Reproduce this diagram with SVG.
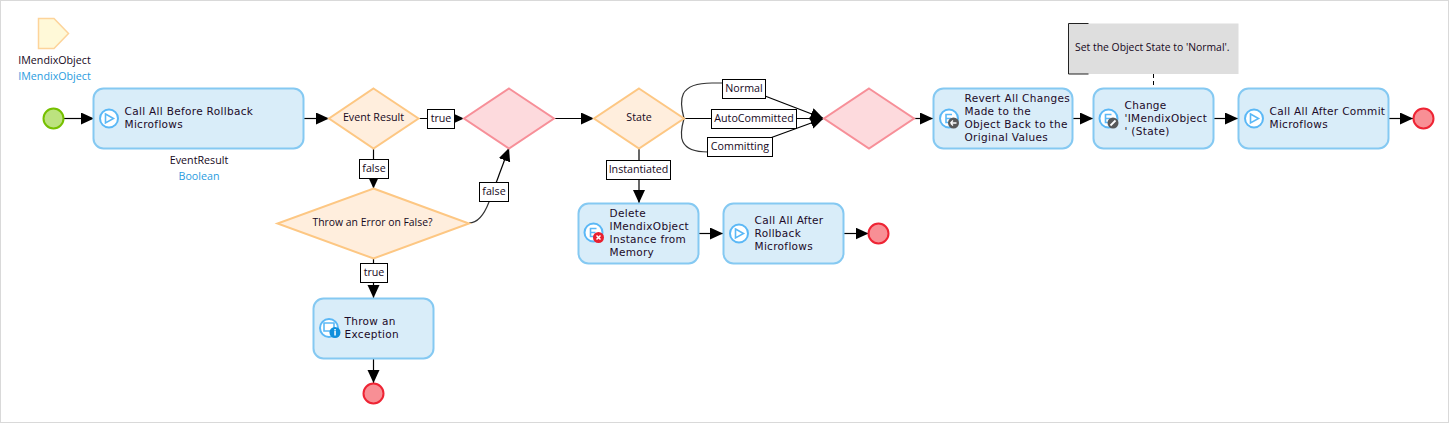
<svg xmlns="http://www.w3.org/2000/svg" width="1449" height="423" viewBox="0 0 1449 423">
<style>
text{font-family:"Open Sans","Noto Sans","Liberation Sans",sans-serif;font-size:10.7px;fill:#16081c}
.n text{font-family:"DejaVu Sans","Liberation Sans",sans-serif;font-size:10.5px;letter-spacing:.32px;fill:#1c0a28}
.c{text-anchor:middle}
.b{fill:#2a9ce0}
.act{fill:#d9edf9;stroke:#85c9f2;stroke-width:2}
.dec{fill:#ffeedd;stroke:#fdc783;stroke-width:2}
.mrg{fill:#fddadd;stroke:#f78f98;stroke-width:2}
.end{fill:#f88f95;stroke:#ee2434;stroke-width:2}
.lbl rect{fill:#fff;stroke:#000;stroke-width:1}
.ln{fill:none;stroke:#000;stroke-width:1.2;marker-end:url(#a)}
.cv{fill:none;stroke:#333;stroke-width:1.2}
.ic{fill:#fff;stroke:#5bb8f6;stroke-width:2}
.gl{fill:none;stroke:#5bb8f6;stroke-width:1.6}
</style>
<defs>
<marker id="a" markerUnits="userSpaceOnUse" markerWidth="14" markerHeight="13" refX="13" refY="6" orient="auto"><path d="M0 0L13 6L0 12Z" fill="#000"/></marker>
<g id="play"><circle class="ic" r="9"/><path class="gl" d="M-3.5-4.5L4.5 0L-3.5 4.5Z"/></g>
<g id="ent"><circle class="ic" r="9"/><path class="gl" d="M3-4H-3V4H3M-3 0H2"/></g>
</defs>
<rect x=".5" y=".5" width="1448" height="422" fill="#fff" stroke="#d9d9d9"/>
<g id="connectors">
<path class="ln" d="M63 118.500H94"/>
<path class="ln" d="M303 118.500H329"/>
<path class="ln" d="M418 118.500H464"/>
<path class="ln" d="M373.500 148V188.500"/>
<path class="ln" d="M373.500 258.500V298"/>
<path class="ln" d="M373.500 358.500V383"/>
<path class="ln" d="M554 118.500H594"/>
<path class="ln" d="M639 148V203"/>
<path class="ln" d="M699 233.500H723"/>
<path class="ln" d="M844 233.500H868.500"/>
<path class="ln" d="M914 118.500H933"/>
<path class="ln" d="M1072 118.500H1093"/>
<path class="ln" d="M1213 118.500H1238"/>
<path class="ln" d="M1389 118.500H1413"/>
<path class="cv" d="M469 223C477 223 484 215 489 202"/>
<path class="ln" d="M489 202L509 148"/>
<path class="cv" d="M684 118.500C679 100 678 83 712 83H722"/>
<path class="cv" d="M684 118.500C679 136 678 152 708 152"/>
<path class="ln" d="M684 118.500H823.500"/>
<path class="ln" d="M765 96L823.500 118.500"/>
<path class="ln" d="M771.500 137.500L823.500 118.500"/>
<path d="M1153.500 74V88" fill="none" stroke="#000" stroke-dasharray="4 3"/>
</g>
<g id="param">
<path d="M38.500 18.500H54L68.500 33.500L54 48.500H38.500Z" fill="#fff9d8" stroke="#fdd49a" stroke-width="1.500"/>
<text class="c" x="54.500" y="64">IMendixObject</text>
<text class="c b" x="54.500" y="80">IMendixObject</text>
</g>
<g id="start"><circle cx="53.500" cy="118.500" r="10" fill="#bce27f" stroke="#76c000" stroke-width="2"/></g>
<g id="n1" class="n">
<rect class="act" x="93.500" y="88.500" width="210" height="60" rx="10"/>
<use href="#play" x="109" y="118.500"/>
<text x="124.500" y="115">Call All Before Rollback</text>
<text x="124.500" y="128">Microflows</text>
</g>
<g id="n1out">
<text class="c" x="199" y="164">EventResult</text>
<text class="c b" x="199" y="180">Boolean</text>
</g>
<g id="d1"><path class="dec" d="M373.500 88.500L418.500 118.500L373.500 148.500L329 118.500Z"/><text class="c" x="373.500" y="121">Event Result</text></g>
<g id="m1"><path class="mrg" d="M509 88.500L554 118.500L509 148.500L464 118.500Z"/></g>
<g id="d2"><path class="dec" d="M639 88.500L684 118.500L639 148.500L594 118.500Z"/><text class="c" x="639" y="121">State</text></g>
<g id="d3"><path class="dec" d="M373.500 188.500L469 223.500L373.500 258.500L277.500 223.500Z"/><text class="c" x="372.500" y="226" style="font-size:10.4px">Throw an Error on False?</text></g>
<g id="m2"><path class="mrg" d="M869 88.500L914 118.500L869 148.500L824 118.500Z"/></g>
<g id="n2" class="n">
<rect class="act" x="313.500" y="298.500" width="120" height="60" rx="10"/>
<circle class="ic" cx="329" cy="328" r="9"/><path class="gl" d="M324 323H334V331H324Z"/>
<circle cx="335" cy="332.500" r="5.500" fill="#0f8fdc"/><rect x="334.300" y="331" width="1.500" height="4.500" fill="#fff"/><rect x="334.300" y="329" width="1.500" height="1.500" fill="#fff"/>
<text x="344.500" y="325">Throw an</text>
<text x="344.500" y="338">Exception</text>
</g>
<g id="e1"><circle class="end" cx="373.500" cy="393.500" r="10"/></g>
<g id="n3" class="n">
<rect class="act" x="578.500" y="203.500" width="120" height="60" rx="10"/>
<use href="#ent" x="593.500" y="232.500"/>
<circle cx="598.500" cy="237.500" r="5.500" fill="#e8202f"/><path d="M596.500 235.500L600.500 239.500M600.500 235.500L596.500 239.500" stroke="#fff" stroke-width="1.500"/>
<text x="609.500" y="217">Delete</text>
<text x="609.500" y="230">IMendixObject</text>
<text x="609.500" y="243">Instance from</text>
<text x="609.500" y="256">Memory</text>
</g>
<g id="n4" class="n">
<rect class="act" x="723.500" y="203.500" width="120" height="60" rx="10"/>
<use href="#play" x="739" y="233.500"/>
<text x="754.500" y="224">Call All After</text>
<text x="754.500" y="237">Rollback</text>
<text x="754.500" y="250">Microflows</text>
</g>
<g id="e2"><circle class="end" cx="878.500" cy="233.500" r="10"/></g>
<g id="n5" class="n">
<rect class="act" x="933.500" y="88.500" width="139" height="60" rx="10"/>
<use href="#ent" x="949" y="118.500"/>
<circle cx="953.500" cy="123" r="5.500" fill="#595959"/><path d="M950.500 123H956.500M950.500 123L953 120.500M950.500 123L953 125.500" fill="none" stroke="#fff" stroke-width="1.300"/>
<text x="964.500" y="102">Revert All Changes</text>
<text x="964.500" y="115">Made to the</text>
<text x="964.500" y="128">Object Back to the</text>
<text x="964.500" y="141">Original Values</text>
</g>
<g id="n6" class="n">
<rect class="act" x="1093.500" y="88.500" width="120" height="60" rx="10"/>
<use href="#ent" x="1108.500" y="118.500"/>
<circle cx="1113" cy="123" r="5.500" fill="#595959"/><path d="M1110.500 125.500L1115.500 120.500" stroke="#fff" stroke-width="1.800"/>
<text x="1124.500" y="109">Change</text>
<text x="1124.500" y="122">'IMendixObject</text>
<text x="1124.500" y="135">' (State)</text>
</g>
<g id="n7" class="n">
<rect class="act" x="1238.500" y="88.500" width="150" height="60" rx="10"/>
<use href="#play" x="1254" y="118.500"/>
<text x="1269.500" y="115">Call All After Commit</text>
<text x="1269.500" y="128">Microflows</text>
</g>
<g id="e3"><circle class="end" cx="1423.500" cy="118.500" r="10"/></g>
<g id="note">
<rect x="1068.500" y="23.500" width="170" height="50.500" fill="#dedede"/>
<path d="M1088.500 23.500H1068.500V74H1088.500" fill="none" stroke="#222"/>
<text x="1075" y="50.500" style="font-size:10.4px">Set the Object State to 'Normal'.</text>
</g>
<g id="labels" class="lbl">
<g><rect x="427.500" y="109.500" width="27" height="19"/><text class="c" x="441" y="122">true</text></g>
<g><rect x="359.500" y="159.500" width="29" height="19"/><text class="c" x="374" y="172">false</text></g>
<g><rect x="360.500" y="263.500" width="27" height="19"/><text class="c" x="374" y="276">true</text></g>
<g><rect x="479.500" y="182.500" width="29" height="19"/><text class="c" x="494" y="195">false</text></g>
<g><rect x="606.500" y="160.500" width="64" height="19"/><text class="c" x="638.500" y="173">Instantiated</text></g>
<g><rect x="722.500" y="79.500" width="43" height="19"/><text class="c" x="744" y="92">Normal</text></g>
<g><rect x="711.500" y="109.500" width="85" height="19"/><text class="c" x="754" y="122">AutoCommitted</text></g>
<g><rect x="707.500" y="137.500" width="65" height="19"/><text class="c" x="740" y="150">Committing</text></g>
</g>
</svg>
